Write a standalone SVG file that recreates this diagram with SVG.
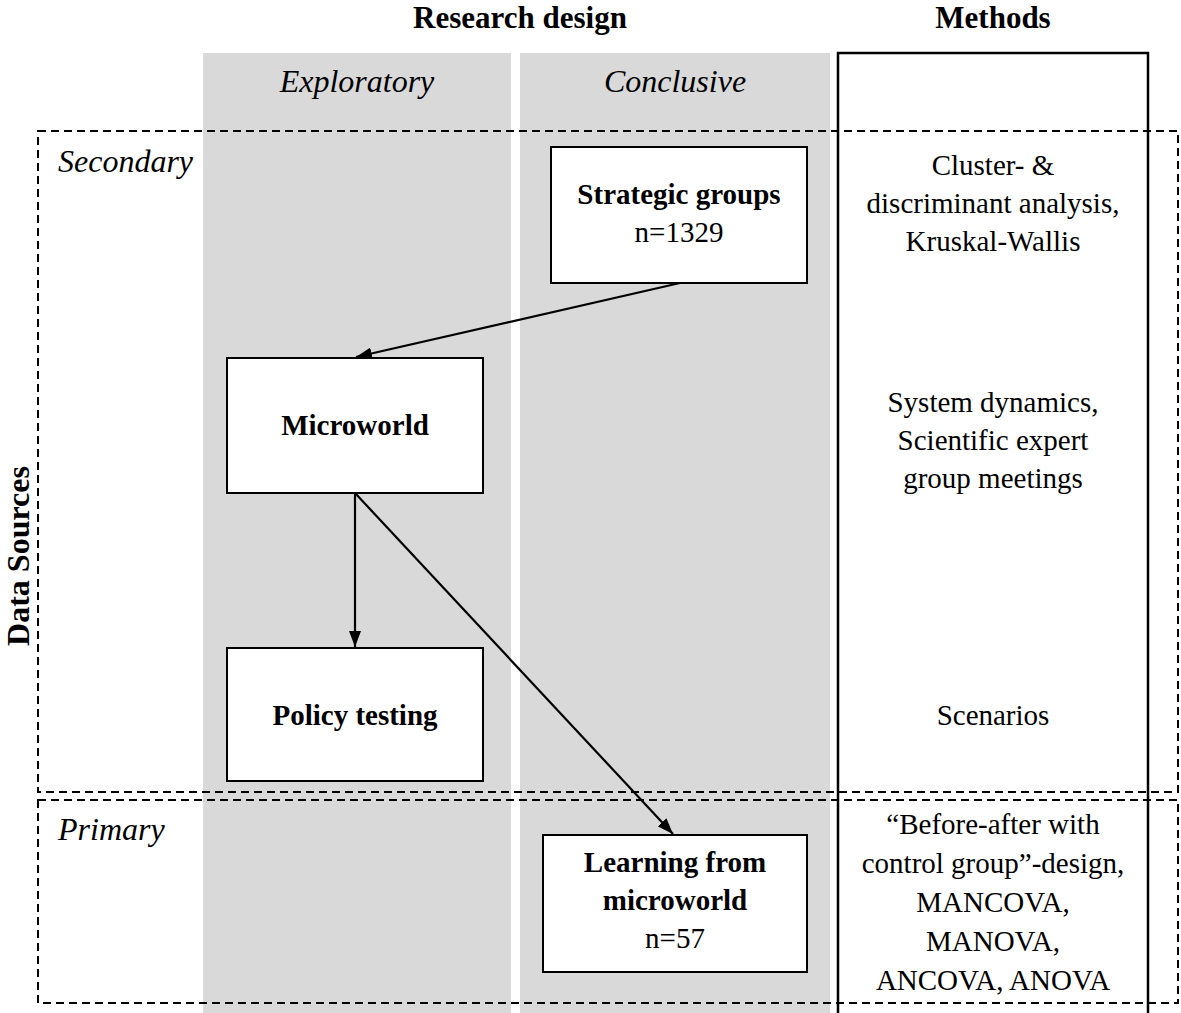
<svg xmlns="http://www.w3.org/2000/svg" width="1181" height="1013" viewBox="0 0 1181 1013">
  <style>
    text { font-family: "Liberation Serif", "Times New Roman", serif; fill: #000; }
    .hdr { font-size: 31px; font-weight: bold; text-anchor: middle; }
    .ital { font-size: 32px; font-style: italic; }
    .ctr { text-anchor: middle; }
    .body { font-size: 29px; text-anchor: middle; }
    .bold { font-size: 29px; font-weight: bold; text-anchor: middle; }
    .col { fill: #d9d9d9; }
    .box { fill: #fff; stroke: #000; stroke-width: 2; }
    .dash { fill: none; stroke: #000; stroke-width: 2; stroke-dasharray: 8 5; }
    .conn { stroke: #000; stroke-width: 2.2; fill: none; marker-end: url(#arrow); }
  </style>
  <defs>
    <marker id="arrow" viewBox="0 0 16 12" refX="16" refY="6" markerWidth="16" markerHeight="12" markerUnits="userSpaceOnUse" orient="auto">
      <path d="M0,0 L16,6 L0,12 z" fill="#000"/>
    </marker>
  </defs>
  <rect width="1181" height="1013" fill="#fff"/>

  <!-- research design columns -->
  <rect class="col" x="203" y="53" width="308" height="960"/>
  <rect class="col" x="520" y="53" width="310" height="960"/>

  <!-- methods column frame -->
  <rect x="838" y="53" width="310" height="980" fill="none" stroke="#000" stroke-width="2.5"/>

  <!-- headings -->
  <text class="hdr" x="520" y="28">Research design</text>
  <text class="hdr" x="993" y="28">Methods</text>
  <text class="ital ctr" x="357" y="92">Exploratory</text>
  <text class="ital ctr" x="675" y="92">Conclusive</text>
  <text class="hdr" style="font-size:32px" transform="translate(29,556) rotate(-90)">Data Sources</text>

  <!-- data source bands -->
  <rect class="dash" x="38" y="131" width="1140" height="661"/>
  <rect class="dash" x="38" y="800" width="1140" height="203"/>
  <text class="ital" x="58" y="172">Secondary</text>
  <text class="ital" x="58" y="840">Primary</text>

  <!-- connectors -->
  <g id="connectors">
    <line class="conn" x1="680" y1="283" x2="356" y2="357"/>
    <line class="conn" x1="355" y1="493" x2="355" y2="647"/>
    <line class="conn" x1="355" y1="493" x2="673" y2="834"/>
  </g>

  <!-- nodes -->
  <g id="strategic-groups">
    <rect class="box" x="551" y="147" width="256" height="136"/>
    <text class="bold" x="679" y="204">Strategic groups</text>
    <text class="body" x="679" y="242">n=1329</text>
  </g>
  <g id="microworld">
    <rect class="box" x="227" y="358" width="256" height="135"/>
    <text class="bold" x="355" y="435">Microworld</text>
  </g>
  <g id="policy-testing">
    <rect class="box" x="227" y="648" width="256" height="133"/>
    <text class="bold" x="355" y="725">Policy testing</text>
  </g>
  <g id="learning-from-microworld">
    <rect class="box" x="543" y="835" width="264" height="137"/>
    <text class="bold" x="675" y="872">Learning from</text>
    <text class="bold" x="675" y="910">microworld</text>
    <text class="body" x="675" y="948">n=57</text>
  </g>

  <!-- methods per stage -->
  <g id="methods-strategic">
    <text class="body" x="993" y="175">Cluster- &amp;</text>
    <text class="body" x="993" y="213">discriminant analysis,</text>
    <text class="body" x="993" y="251">Kruskal-Wallis</text>
  </g>
  <g id="methods-microworld">
    <text class="body" x="993" y="412">System dynamics,</text>
    <text class="body" x="993" y="450">Scientific expert</text>
    <text class="body" x="993" y="488">group meetings</text>
  </g>
  <g id="methods-policy">
    <text class="body" x="993" y="725">Scenarios</text>
  </g>
  <g id="methods-learning">
    <text class="body" x="993" y="834">“Before-after with</text>
    <text class="body" x="993" y="873">control group”-design,</text>
    <text class="body" x="993" y="912">MANCOVA,</text>
    <text class="body" x="993" y="951">MANOVA,</text>
    <text class="body" x="993" y="990">ANCOVA, ANOVA</text>
  </g>
</svg>
